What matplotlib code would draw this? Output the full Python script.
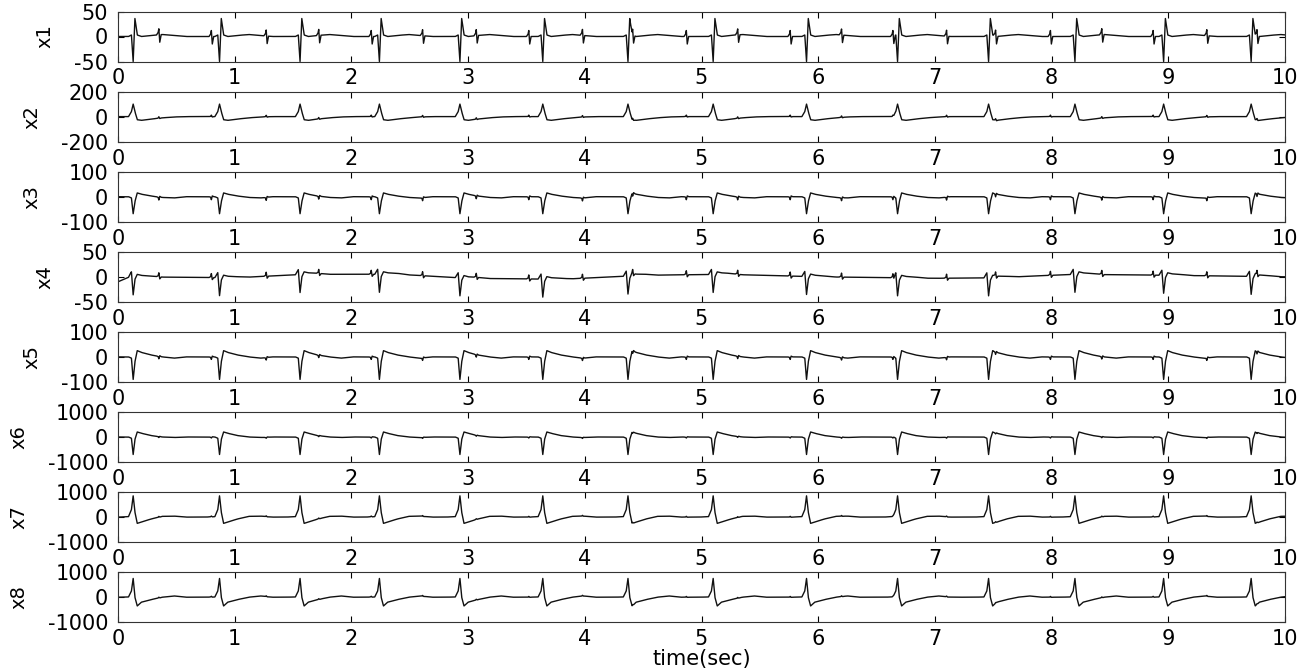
import numpy as np
import matplotlib.pyplot as plt

plt.rcParams['font.family'] = ['DejaVu Sans']
plt.rcParams['axes.unicode_minus'] = False

# # **data**

channel_names = ['x1', 'x2', 'x3', 'x4', 'x5', 'x6', 'x7', 'x8']
y_limits = [50, 200, 100, 50, 100, 1000, 1000, 1000]

# beat times (sec)
maternal_beats = [0.13, 0.87, 1.56, 2.24, 2.93, 3.64, 4.37, 5.10, 5.90,
                  6.68, 7.46, 8.20, 8.96, 9.71]
fetal_beats = [0.35, 0.80, 1.27, 1.72, 2.17, 2.61, 3.07, 3.52, 3.98, 4.41,
               4.87, 5.31, 5.76, 6.20, 6.64, 7.10, 7.52, 7.99, 8.43, 8.87,
               9.33, 9.76]

# maternal beat shape per channel, at these offsets from the beat (sec)
maternal_offsets = [-0.12, -0.04, -0.015, 0.0, 0.015, 0.035, 0.07, 0.15, 0.25, 0.35, 0.45]
maternal_x1 = [0, 0, 3, -50, 36, 3, 0, 2, 4, 2, 0]
maternal_x2 = [0, 0, 40, 100, 40, -25, -30, -20, -10, -3, 0]
maternal_x3 = [0, 0, -5, -68, -20, 15, 10, 3, -3, -5, 0]
maternal_x4 = [0, 0, 10, -36, -5, 5, 3, 2, 0, 0, 0]
maternal_x5 = [0, 0, -5, -90, -20, 25, 18, 8, 0, -5, 0]
maternal_x6 = [0, 0, -50, -700, -100, 200, 150, 60, 0, -20, 0]
maternal_x7 = [0, 20, 300, 850, 200, -250, -200, -80, 30, 40, 0]
maternal_x8 = [0, 10, 250, 750, 0, -350, -200, -100, 0, 50, 0]

# fetal beat shape per channel
fetal_offsets = [-0.02, -0.006, 0.0, 0.008, 0.02]
fetal_x1 = [0, 5, 12, -15, 0]
fetal_x2 = [0, 2, 12, -3, 0]
fetal_x3 = [0, -2, -12, 3, 0]
fetal_x4 = [0, 2, 8, -4, 0]
fetal_x5 = [0, -2, -10, 3, 0]
fetal_x6 = [0, -10, -40, 10, 0]
fetal_x7 = [0, 5, 30, -5, 0]
fetal_x8 = [0, 5, 30, -5, 0]

# slow baseline drift of x4
drift_t_x4 = [0, 0.1, 1.0, 1.6, 2.4, 3.0, 3.8, 4.5, 5.2, 6.0, 7.0, 7.5, 8.2, 9.0, 10]
drift_v_x4 = [-10, 0, -2, 5, 5, -3, -5, 3, 5, 0, -3, -2, 5, 3, 0]

maternal_shapes = [maternal_x1, maternal_x2, maternal_x3, maternal_x4,
                   maternal_x5, maternal_x6, maternal_x7, maternal_x8]
fetal_shapes = [fetal_x1, fetal_x2, fetal_x3, fetal_x4,
                fetal_x5, fetal_x6, fetal_x7, fetal_x8]

# # **build traces**

fs = 1000
t = np.arange(0, 10 * fs + 1) / fs


def place(times, offsets, shape):
    sig = np.zeros_like(t)
    off = np.array(offsets)
    for b in times:
        sig += np.interp(t, b + off, shape, left=0, right=0)
    return sig


traces = []
for i in range(8):
    s = place(maternal_beats, maternal_offsets, maternal_shapes[i])
    s += place(fetal_beats, fetal_offsets, fetal_shapes[i])
    if i == 3:
        s += np.interp(t, drift_t_x4, drift_v_x4)
    traces.append(s)

# # **plot**

W, H = 1309, 672
fig = plt.figure(figsize=(W / 100, H / 100), dpi=100)

left, right = 118, 1285
for i in range(8):
    top = 11.5 + 80.1 * i
    ax = fig.add_axes([left / W, 1 - (top + 50) / H, (right - left) / W, 50 / H])
    ax.plot(t, traces[i], color='#111111', lw=1.0)
    lim = y_limits[i]
    ax.set_xlim(0, 10)
    ax.set_ylim(-lim, lim)
    ax.set_xticks(range(11))
    ax.set_yticks([-lim, 0, lim])
    ax.tick_params(direction='in', top=True, right=True, length=4, width=0.8,
                   labelsize=15, pad=5)
    ax.tick_params(axis='y', pad=7)
    for sp in ax.spines.values():
        sp.set_linewidth(0.8)
        sp.set_color('#333333')
    ax.set_ylabel(channel_names[i], fontsize=14, labelpad=14)

ax.set_xlabel('time(sec)', fontsize=15, labelpad=0)

fig.savefig('out.png', dpi=100)
